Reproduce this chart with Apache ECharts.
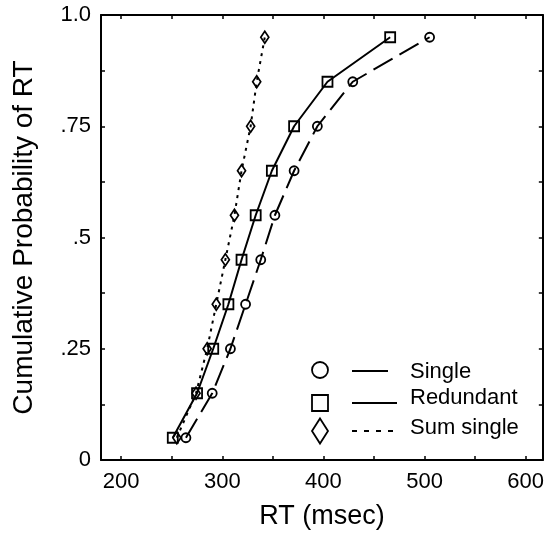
<!DOCTYPE html>
<html>
<head>
<meta charset="utf-8">
<script src="https://cdn.jsdelivr.net/npm/echarts@6/dist/echarts.min.js"></script>
<style>
html,body{margin:0;padding:0;background:#fff;}
#chart{width:547px;height:535px;}
</style>
</head>
<body>
<div id="chart"></div>
<script>
// Cumulative probabilities (quantile levels)
var probs = [0.05, 0.15, 0.25, 0.35, 0.45, 0.55, 0.65, 0.75, 0.85, 0.95];
// RT values (msec)
var singleRT    = [264, 290, 308, 323, 338, 352, 371, 394, 429, 505];
var redundantRT = [251, 275, 291, 306, 319, 333, 349, 371, 404, 466];
var sumSingleRT = [255, 274, 285, 294, 303, 312, 319, 328, 334, 342];
// Tick values
var xMajor = [200, 300, 400, 500, 600];
var xMinor = [250, 350, 450, 550];
var yMajor = [0, 0.25, 0.5, 0.75, 1.0];
var yMinor = [0.125, 0.375, 0.625, 0.875];
var yLabels = {'0': '0', '0.25': '.25', '0.5': '.5', '0.75': '.75', '1': '1.0'};
var seriesNames = ['Single', 'Redundant', 'Sum single'];

function pairs(xs) { return xs.map(function (x, i) { return [x, probs[i]]; }); }

var FONT = 'Liberation Sans, Arial, Helvetica, sans-serif';
var X_MIN = 180, X_MAX = 617;

function xAx(pos, labels) {
  return {
    type: 'value', position: pos, min: X_MIN, max: X_MAX,
    axisLine: {show: true, onZero: false, lineStyle: {color: '#000', width: 2}},
    axisTick: {show: true, inside: true, length: 4, customValues: xMajor.concat(xMinor), lineStyle: {color: '#000', width: 1.5}},
    axisLabel: labels ? {show: true, customValues: xMajor, color: '#000', fontSize: 22, fontFamily: FONT, margin: 11} : {show: false},
    splitLine: {show: false},
    name: labels ? 'RT (msec)' : '',
    nameLocation: 'middle', nameGap: 43,
    nameTextStyle: {color: '#000', fontSize: 27, fontFamily: FONT}
  };
}
function yAx(pos, labels) {
  return {
    type: 'value', position: pos, min: 0, max: 1,
    axisLine: {show: true, onZero: false, lineStyle: {color: '#000', width: 2}},
    axisTick: {show: true, inside: true, length: 4, customValues: yMajor.concat(yMinor), lineStyle: {color: '#000', width: 1.5}},
    axisLabel: labels ? {show: true, customValues: yMajor, color: '#000', fontSize: 22, fontFamily: FONT, margin: 10,
      formatter: function (v) { return yLabels[String(v)]; }} : {show: false},
    splitLine: {show: false},
    name: labels ? 'Cumulative Probability of RT' : '',
    nameLocation: 'middle', nameGap: 63,
    nameTextStyle: {color: '#000', fontSize: 28, fontFamily: FONT}
  };
}

function ser(name, xs, symbol, size, dash) {
  return {
    name: name, type: 'line', data: pairs(xs), xAxisIndex: 0, yAxisIndex: 0,
    symbol: symbol, symbolSize: size, showSymbol: true,
    lineStyle: {color: '#000', width: 2, type: dash},
    itemStyle: {color: 'transparent', borderColor: '#000', borderWidth: 1.8},
    animation: false, z: 3
  };
}

var chart = echarts.init(document.getElementById('chart'), null, {renderer: 'canvas'});
chart.setOption({
  backgroundColor: '#fff',
  animation: false,
  grid: {left: 101, right: 1, top: 15, bottom: 73, containLabel: false},
  xAxis: [xAx('bottom', true), xAx('top', false)],
  yAxis: [yAx('left', true), yAx('right', false)],
  series: [
    ser(seriesNames[0], singleRT, 'circle', 9, [22, 8]),
    ser(seriesNames[1], redundantRT, 'rect', 10, 'solid'),
    ser(seriesNames[2], sumSingleRT, 'diamond', [8, 12], [3, 5])
  ],
  graphic: [
    {type: 'circle', shape: {cx: 320, cy: 370, r: 8}, style: {fill: 'none', stroke: '#000', lineWidth: 1.8}},
    {type: 'rect', shape: {x: 312, y: 395, width: 16, height: 16}, style: {fill: 'none', stroke: '#000', lineWidth: 1.8}},
    {type: 'polygon', shape: {points: [[320, 418.5], [328, 431], [320, 443.5], [312, 431]]}, style: {fill: 'none', stroke: '#000', lineWidth: 1.8}},
    {type: 'line', shape: {x1: 352, y1: 371, x2: 388, y2: 371}, style: {stroke: '#000', lineWidth: 2}},
    {type: 'line', shape: {x1: 352, y1: 403, x2: 397, y2: 403}, style: {stroke: '#000', lineWidth: 2}},
    {type: 'line', shape: {x1: 352, y1: 431, x2: 395, y2: 431}, style: {stroke: '#000', lineWidth: 2, lineDash: [5, 7]}},
    {type: 'text', style: {x: 410, y: 372, text: seriesNames[0], fill: '#000', font: '22px ' + FONT, verticalAlign: 'middle'}},
    {type: 'text', style: {x: 410, y: 398, text: seriesNames[1], fill: '#000', font: '22px ' + FONT, verticalAlign: 'middle'}},
    {type: 'text', style: {x: 410, y: 428, text: seriesNames[2], fill: '#000', font: '22px ' + FONT, verticalAlign: 'middle'}}
  ]
});
</script>
</body>
</html>
